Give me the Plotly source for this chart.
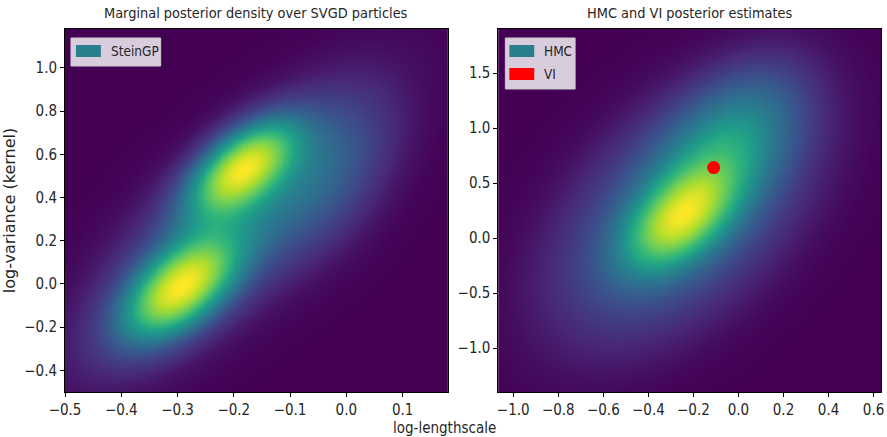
import numpy as np
import plotly.graph_objects as go

# ---- data: Gaussian-mixture description of the KDE surfaces ----
svgd_means_x = [-0.296, -0.185, -0.21, -0.03]
svgd_means_y = [-0.02, 0.54, 0.25, 0.50]
svgd_sd_x = [0.066, 0.062, 0.17, 0.08]
svgd_sd_y = [0.155, 0.145, 0.42, 0.26]
svgd_corr = [0.55, 0.55, 0.75, 0.35]
svgd_weight = [1.0, 0.9, 2.3, 0.4]

hmc_means_x = [-0.262, -0.08, -0.25]
hmc_means_y = [0.18, 0.75, 0.25]
hmc_sd_x = [0.15, 0.19, 0.38]
hmc_sd_y = [0.29, 0.42, 0.78]
hmc_corr = [0.5, 0.5, 0.5]
hmc_weight = [1.0, 0.8, 1.8]

vi_x = [-0.11]
vi_y = [0.64]

left_xrange = [-0.5, 0.18]
left_yrange = [-0.5, 1.18]
right_xrange = [-1.066, 0.633]
right_yrange = [-1.4, 1.9]

left_xticks = [-0.5, -0.4, -0.3, -0.2, -0.1, 0.0, 0.1]
left_yticks = [-0.4, -0.2, 0.0, 0.2, 0.4, 0.6, 0.8, 1.0]
right_xticks = [-1.0, -0.8, -0.6, -0.4, -0.2, 0.0, 0.2, 0.4, 0.6]
right_yticks = [-1.0, -0.5, 0.0, 0.5, 1.0, 1.5]


def mixture(xr, yr, mx, my, sx, sy, rho, w, n=240):
    xs = np.linspace(xr[0], xr[1], n)
    ys = np.linspace(yr[0], yr[1], n)
    X, Y = np.meshgrid(xs, ys)
    Z = np.zeros_like(X)
    for a, b, c, d, r, ww in zip(mx, my, sx, sy, rho, w):
        u = (X - a) / c
        v = (Y - b) / d
        q = (u * u - 2 * r * u * v + v * v) / (1 - r * r)
        Z += ww * np.exp(-0.5 * q) / (c * d * np.sqrt(1 - r * r))
    # iso-proportion levels (as seaborn's kdeplot): colour = mass fraction below density
    flat = np.sort(Z.ravel())
    cum = np.cumsum(flat)
    cum /= cum[-1]
    P = np.interp(Z, flat, cum)
    return xs, ys, P


lx, ly, lz = mixture(left_xrange, left_yrange, svgd_means_x, svgd_means_y, svgd_sd_x,
                     svgd_sd_y, svgd_corr, svgd_weight)
rx, ry, rz = mixture(right_xrange, right_yrange, hmc_means_x, hmc_means_y, hmc_sd_x,
                     hmc_sd_y, hmc_corr, hmc_weight)

FONT = "DejaVu Sans Condensed, Liberation Sans Narrow, DejaVu Sans"
TXT = "#262626"

fig = go.Figure()
fig.add_trace(go.Heatmap(x=lx, y=ly, z=lz, colorscale="Viridis", zmin=0, zmax=1,
                         zsmooth="best", showscale=False, xaxis="x", yaxis="y",
                         hoverinfo="skip"))
fig.add_trace(go.Heatmap(x=rx, y=ry, z=rz, colorscale="Viridis", zmin=0, zmax=1,
                         zsmooth="best", showscale=False, xaxis="x2", yaxis="y2",
                         hoverinfo="skip"))
fig.add_trace(go.Scatter(x=vi_x, y=vi_y, mode="markers", xaxis="x2", yaxis="y2",
                         marker=dict(color="red", size=13, symbol="circle"),
                         showlegend=False, hoverinfo="skip"))

axis_common = dict(showline=True, linecolor="black", linewidth=1, mirror=True,
                   ticks="outside", ticklen=4, tickcolor="black", showgrid=False,
                   zeroline=False, tickfont=dict(family=FONT, size=15, color=TXT),
                   tickformat=".1f", ticklabeloverflow="allow")

fig.update_layout(
    width=887, height=437,
    margin=dict(l=65, r=3, t=29, b=45),
    paper_bgcolor="white", plot_bgcolor="#440154",
    showlegend=False,
    xaxis=dict(domain=[0, 0.4689], range=left_xrange, tickvals=left_xticks, **axis_common),
    yaxis=dict(domain=[0, 1], range=left_yrange, tickvals=left_yticks,
               title=dict(text="log-variance (kernel)", standoff=6,
                          font=dict(family="DejaVu Sans", size=16, color=TXT)),
               **axis_common),
    xaxis2=dict(domain=[0.5311, 1], range=right_xrange, tickvals=right_xticks,
                anchor="y2", **axis_common),
    yaxis2=dict(domain=[0, 1], range=right_yrange, tickvals=right_yticks,
                anchor="x2", **axis_common),
)

ann = []
ann.append(dict(text="Marginal posterior density over SVGD particles", xref="x domain",
                yref="paper", x=0.5, y=1.0, yshift=6, xanchor="center", yanchor="bottom",
                showarrow=False, font=dict(family=FONT, size=14.4, color=TXT)))
ann.append(dict(text="HMC and VI posterior estimates", xref="x2 domain",
                yref="paper", x=0.5, y=1.0, yshift=6, xanchor="center", yanchor="bottom",
                showarrow=False, font=dict(family=FONT, size=14.4, color=TXT)))
ann.append(dict(text="log-lengthscale", xref="paper", yref="paper", x=0.465, y=-0.1,
                xanchor="center", yanchor="middle", showarrow=False,
                font=dict(family=FONT, size=15, color=TXT)))

shapes = []


def px2dom_x(px, left, width):
    return (px - left) / width


def px2dom_y(py):
    return (392 - py) / 363


LW = 384
RW = 384
shapes.append(dict(type="rect", xref="x domain", yref="y domain",
                   x0=px2dom_x(71, 65, LW), x1=px2dom_x(161, 65, LW),
                   y0=px2dom_y(66), y1=px2dom_y(38),
                   fillcolor="rgba(255,255,255,0.8)", line=dict(color="#cccccc", width=1)))
shapes.append(dict(type="rect", xref="x domain", yref="y domain",
                   x0=px2dom_x(76, 65, LW), x1=px2dom_x(101, 65, LW),
                   y0=px2dom_y(57), y1=px2dom_y(45),
                   fillcolor="#2a7f8e", line=dict(width=0)))
ann.append(dict(text="SteinGP", xref="x domain", yref="y domain",
                x=px2dom_x(109, 65, LW), y=px2dom_y(51), xanchor="left", yanchor="middle",
                showarrow=False, font=dict(family=FONT, size=13.5, color=TXT)))
shapes.append(dict(type="rect", xref="x2 domain", yref="y2 domain",
                   x0=px2dom_x(507, 500, RW), x1=px2dom_x(577, 500, RW),
                   y0=px2dom_y(89), y1=px2dom_y(38),
                   fillcolor="rgba(255,255,255,0.8)", line=dict(color="#cccccc", width=1)))
shapes.append(dict(type="rect", xref="x2 domain", yref="y2 domain",
                   x0=px2dom_x(511, 500, RW), x1=px2dom_x(536, 500, RW),
                   y0=px2dom_y(57), y1=px2dom_y(45),
                   fillcolor="#2a7f8e", line=dict(width=0)))
shapes.append(dict(type="rect", xref="x2 domain", yref="y2 domain",
                   x0=px2dom_x(511, 500, RW), x1=px2dom_x(536, 500, RW),
                   y0=px2dom_y(80), y1=px2dom_y(68),
                   fillcolor="red", line=dict(width=0)))
ann.append(dict(text="HMC", xref="x2 domain", yref="y2 domain",
                x=px2dom_x(544, 500, RW), y=px2dom_y(51), xanchor="left", yanchor="middle",
                showarrow=False, font=dict(family=FONT, size=13.5, color=TXT)))
ann.append(dict(text="VI", xref="x2 domain", yref="y2 domain",
                x=px2dom_x(544, 500, RW), y=px2dom_y(74), xanchor="left", yanchor="middle",
                showarrow=False, font=dict(family=FONT, size=13.5, color=TXT)))

fig.update_layout(annotations=ann, shapes=shapes)
fig.write_html("out.html")
